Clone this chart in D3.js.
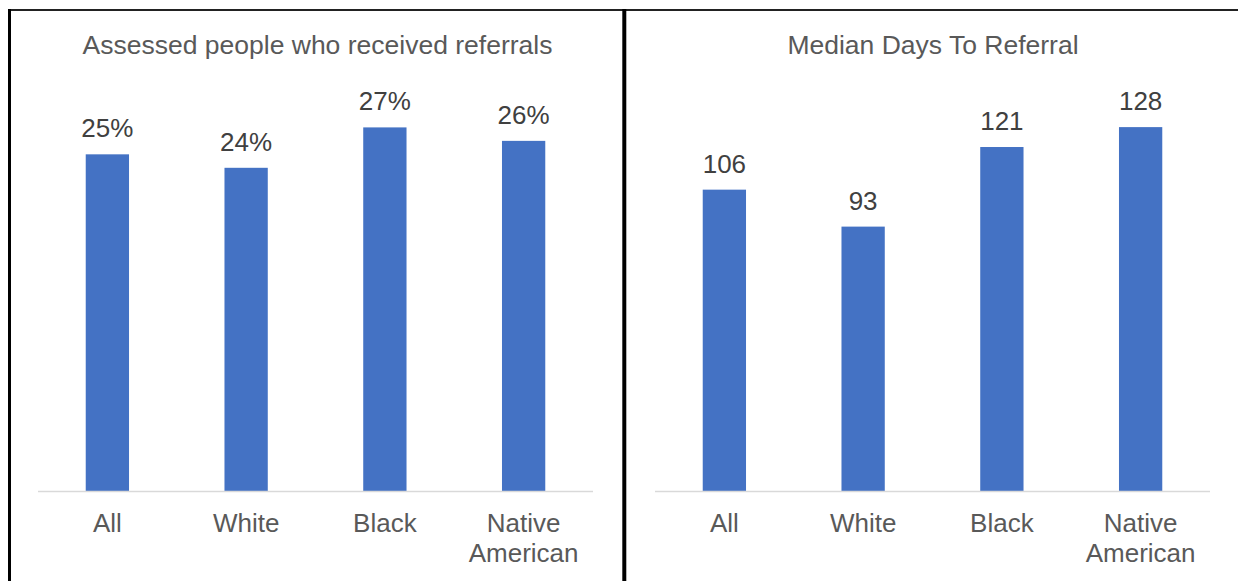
<!DOCTYPE html>
<html>
<head>
<meta charset="utf-8">
<script src="https://cdn.jsdelivr.net/npm/d3@7"></script>
<style>
  html, body { margin: 0; padding: 0; background: #fff; }
  svg { display: block; font-family: Arial, "Liberation Sans", sans-serif; }
</style>
</head>
<body>
<svg id="chart" width="1238" height="581"></svg>
<script>
// Categories shared by both panels
const categories = ["All", "White", "Black", "Native American"];

// Share of assessed people who received referrals
const referralShare = [0.25, 0.24, 0.27, 0.26];

// Median days from assessment to referral
const medianDays = [106, 93, 121, 128];

const titles = ["Assessed people who received referrals", "Median Days To Referral"];

const svg = d3.select("#chart");
const W = 1238, H = 581;

const barColor = "#4472C4";
const titleColor = "#595959";
const labelColor = "#404040";
const axisColor = "#D9D9D9";

const panels = [
  { x0: 9, x1: 624, plotL: 38, plotR: 593, values: referralShare,
    yMax: 0.30, yTop: 87, fmt: d => Math.round(d * 100) + "%", title: titles[0] },
  { x0: 624, x1: 1240, plotL: 655, plotR: 1210, values: medianDays,
    yMax: 140, yTop: 93, fmt: d => d3.format("d")(d), title: titles[1] }
];

const baseY = 491;

panels.forEach(p => {
  const g = svg.append("g");

  // title
  g.append("text")
    .attr("x", (p.x0 + p.x1) / 2 + 1)
    .attr("y", 54)
    .attr("text-anchor", "middle")
    .attr("font-size", 26.5)
    .attr("fill", titleColor)
    .text(p.title);

  const x = d3.scaleBand()
    .domain(categories)
    .range([p.plotL, p.plotR])
    .paddingInner(0.688)
    .paddingOuter(0.344);

  const y = d3.scaleLinear()
    .domain([0, p.yMax])
    .range([baseY, p.yTop]);

  const data = categories.map((c, i) => ({ c, v: p.values[i] }));

  g.selectAll("rect.bar")
    .data(data)
    .join("rect")
    .attr("class", "bar")
    .attr("x", d => x(d.c))
    .attr("y", d => y(d.v))
    .attr("width", x.bandwidth())
    .attr("height", d => baseY - y(d.v))
    .attr("fill", barColor);

  // value labels
  g.selectAll("text.val")
    .data(data)
    .join("text")
    .attr("class", "val")
    .attr("x", d => x(d.c) + x.bandwidth() / 2)
    .attr("y", d => y(d.v) - 17)
    .attr("text-anchor", "middle")
    .attr("font-size", 26)
    .attr("fill", labelColor)
    .text(d => p.fmt(d.v));

  // category axis line
  g.append("line")
    .attr("x1", p.plotL).attr("x2", p.plotR)
    .attr("y1", baseY + 0.5).attr("y2", baseY + 0.5)
    .attr("stroke", axisColor)
    .attr("stroke-width", 1.5);

  // category labels (wrapped on spaces for two-word names)
  const cat = g.selectAll("text.cat")
    .data(data)
    .join("text")
    .attr("class", "cat")
    .attr("text-anchor", "middle")
    .attr("font-size", 26)
    .attr("fill", titleColor);

  cat.each(function(d) {
    const words = d.c.split(" ");
    const t = d3.select(this);
    const cx = x(d.c) + x.bandwidth() / 2;
    if (words.length > 1) {
      words.forEach((w, i) => {
        t.append("tspan").attr("x", cx).attr("y", 532 + i * 30).text(w);
      });
    } else {
      t.append("tspan").attr("x", cx).attr("y", 532).text(d.c);
    }
  });
});

// panel frames
const frame = svg.append("g").attr("fill", "none").attr("stroke", "#000");
frame.append("line").attr("x1", 8).attr("x2", W).attr("y1", 10).attr("y2", 10)
  .attr("stroke-width", 2).attr("stroke", "#222");
frame.append("line").attr("x1", 9.5).attr("x2", 9.5).attr("y1", 9).attr("y2", H)
  .attr("stroke-width", 3);
frame.append("line").attr("x1", 624.3).attr("x2", 624.3).attr("y1", 9).attr("y2", H)
  .attr("stroke-width", 4);
</script>
</body>
</html>
